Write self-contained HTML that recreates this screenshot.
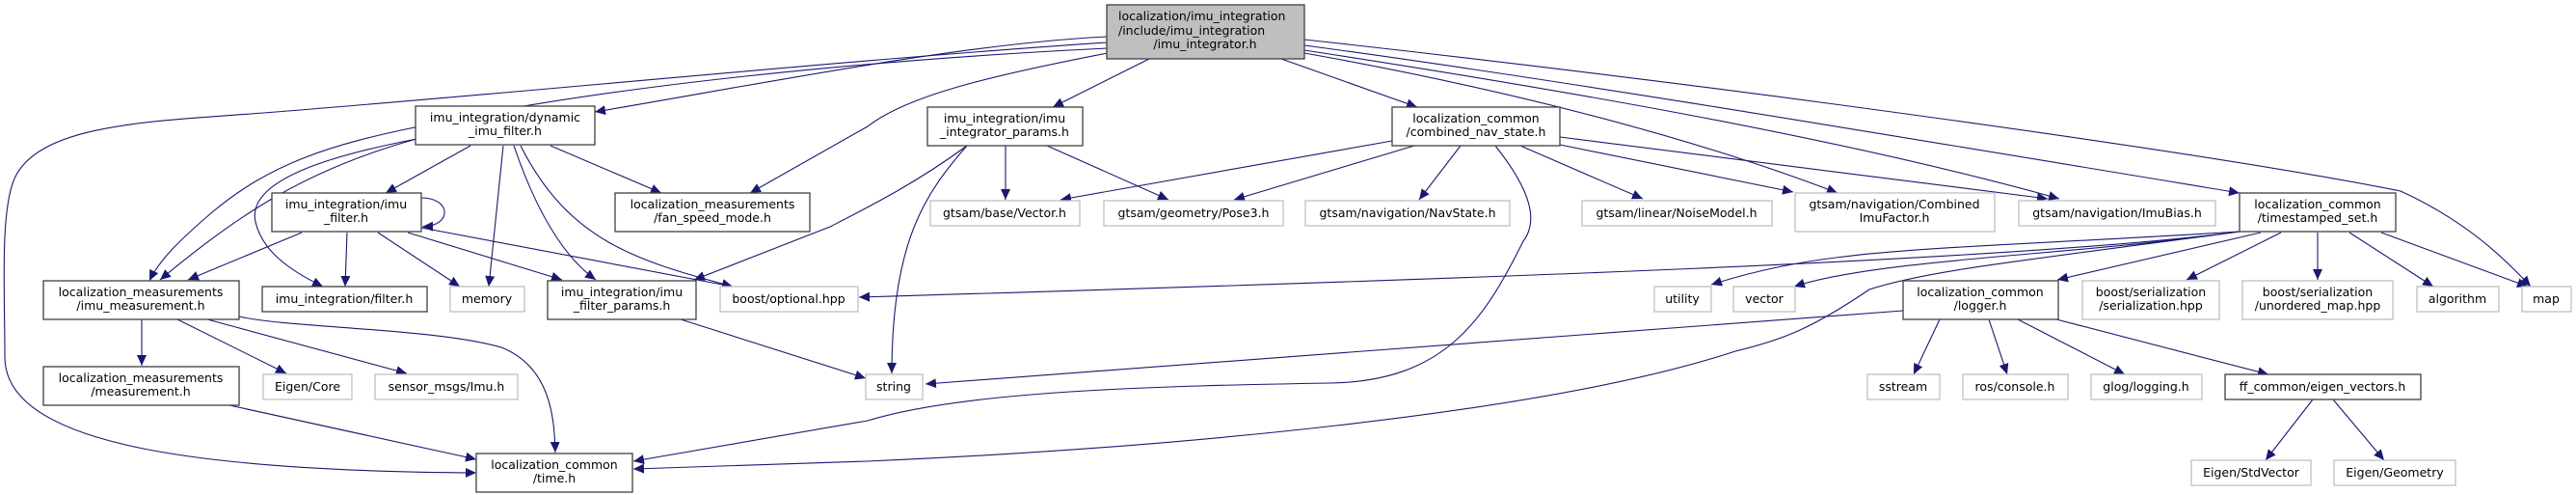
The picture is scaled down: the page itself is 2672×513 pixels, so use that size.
<!DOCTYPE html>
<html><head><meta charset="utf-8"><style>
html,body{margin:0;padding:0;background:#fff;}
svg{display:block;}
text{font-family:"DejaVu Sans","Liberation Sans",sans-serif;font-size:12.5px;fill:#000;}
.b{fill:#fff;stroke:#404040;stroke-width:1.3;}
.g{fill:#fff;stroke:#bfbfbf;stroke-width:1.3;}
.e{fill:none;stroke:#191970;stroke-width:1.1;}
</style></head><body>
<svg width="2672" height="513" viewBox="0 0 2672 513" xmlns="http://www.w3.org/2000/svg">
<defs><marker id="a" markerUnits="userSpaceOnUse" markerWidth="12" markerHeight="10" refX="11" refY="5" orient="auto"><path d="M0,0 L11,5 L0,10 z" fill="#191970"/></marker></defs>
<g class="e" marker-end="url(#a)">
<path d="M1149,44 C900,60 500,100 260,118 C150,126 40,130 15,185 C0,220 5,300 5,370 C5,460 200,488 494,490"/>
<path d="M1149,50 C900,62 620,90 440,130 C340,150 280,170 220,220 C185,250 165,270 155,291"/>
<path d="M1149,38 C1000,45 800,85 617,116"/>
<path d="M1149,55 C1020,80 940,100 900,131 L778,200"/>
<path d="M1192,61 L1092,111"/>
<path d="M1329,61 L1470,111"/>
<path d="M1353,41 C1800,90 2300,160 2490,198 C2560,230 2600,270 2625,297"/>
<path d="M1353,47 C1600,80 1900,130 2323,200"/>
<path d="M1353,52 C1600,90 1900,140 2136,206"/>
<path d="M1353,55 C1550,90 1750,140 1906,200"/>
<path d="M1618,142 L2124,206"/>
<path d="M1618,150 L1860,199"/>
<path d="M1577,151 L1704,206"/>
<path d="M1515,151 L1472,207"/>
<path d="M1467,151 L1280,207"/>
<path d="M1444,146 L1100,207"/>
<path d="M1551,151 C1590,200 1595,230 1580,250 C1540,330 1500,395 1380,397 C1200,400 1000,405 900,436 L657,478"/>
<path d="M1043,151 L1043,207"/>
<path d="M1086,151 L1212,207"/>
<path d="M1003,151 C960,200 925,250 925,387"/>
<path d="M1003,151 C950,190 900,215 861,235 L720,290"/>
<path d="M2323,240 C2100,270 1500,290 891,308"/>
<path d="M2345,241 L2134,290"/>
<path d="M2366,241 L2268,290"/>
<path d="M2404,241 L2404,290"/>
<path d="M2437,241 L2524,297"/>
<path d="M2470,241 L2622,297"/>
<path d="M2323,240 C2150,265 1950,268 1861,297"/>
<path d="M2323,240 C2000,260 1900,255 1775,295"/>
<path d="M2323,240 C2100,270 2000,280 1939,300 C1880,340 1850,352 1800,364 C1600,430 1200,465 900,478 L657,486"/>
<path d="M1974,322 L960,398"/>
<path d="M2012,331 L1985,388"/>
<path d="M2063,331 L2082,388"/>
<path d="M2093,331 L2204,388"/>
<path d="M2133,331 L2353,388"/>
<path d="M2399,414 L2350,477"/>
<path d="M2420,414 L2473,477"/>
<path d="M488,151 L400,200"/>
<path d="M522,151 L507,297"/>
<path d="M571,151 L686,200"/>
<path d="M533,151 C560,230 590,270 618,290"/>
<path d="M540,151 C590,250 660,270 760,297"/>
<path d="M432,144 C350,160 255,185 265,230 C272,260 300,280 335,297"/>
<path d="M432,144 C320,175 250,220 166,290"/>
<path d="M437,205 C468,205 470,234 438,235"/>
<path d="M313,241 L195,290"/>
<path d="M360,241 L358,297"/>
<path d="M392,241 L477,297"/>
<path d="M423,241 L583,290"/>
<path d="M437,236 L760,297"/>
<path d="M147,331 L147,379"/>
<path d="M184,331 L297,387"/>
<path d="M215,331 L422,387"/>
<path d="M248,328 C300,340 450,340 520,360 C570,380 575,430 576,469"/>
<path d="M238,420 L494,476"/>
<path d="M706,331 L898,392"/>
</g>
<rect x="1148" y="5" width="205" height="56" fill="#bfbfbf" stroke="#404040" stroke-width="1.3"/>
<text x="1160" y="21">localization/imu_integration</text>
<text x="1160" y="36">/include/imu_integration</text>
<text x="1250" y="50" text-anchor="middle">/imu_integrator.h</text>
<g text-anchor="middle">
<rect class="b" x="431" y="110" width="186" height="40"/><text x="524" y="126">imu_integration/dynamic</text><text x="524" y="140">_imu_filter.h</text>
<rect class="b" x="962" y="111" width="161" height="40"/><text x="1042" y="127">imu_integration/imu</text><text x="1042" y="141">_integrator_params.h</text>
<rect class="b" x="1444" y="111" width="174" height="40"/><text x="1531" y="127">localization_common</text><text x="1531" y="141">/combined_nav_state.h</text>
<rect class="b" x="282" y="200" width="155" height="40"/><text x="359" y="216">imu_integration/imu</text><text x="359" y="230">_filter.h</text>
<rect class="b" x="638" y="200" width="202" height="40"/><text x="739" y="216">localization_measurements</text><text x="739" y="230">/fan_speed_mode.h</text>
<rect class="g" x="965" y="208" width="155" height="26"/><text x="1042" y="225">gtsam/base/Vector.h</text>
<rect class="g" x="1145" y="208" width="186" height="26"/><text x="1238" y="225">gtsam/geometry/Pose3.h</text>
<rect class="g" x="1354" y="208" width="212" height="26"/><text x="1460" y="225">gtsam/navigation/NavState.h</text>
<rect class="g" x="1641" y="208" width="197" height="26"/><text x="1739" y="225">gtsam/linear/NoiseModel.h</text>
<rect class="g" x="1862" y="200" width="207" height="40"/><text x="1965" y="216">gtsam/navigation/Combined</text><text x="1965" y="230">ImuFactor.h</text>
<rect class="g" x="2094" y="208" width="204" height="26"/><text x="2196" y="225">gtsam/navigation/ImuBias.h</text>
<rect class="b" x="2323" y="200" width="162" height="40"/><text x="2404" y="216">localization_common</text><text x="2404" y="230">/timestamped_set.h</text>
<rect class="b" x="45" y="291" width="203" height="40"/><text x="146" y="307">localization_measurements</text><text x="146" y="321">/imu_measurement.h</text>
<rect class="b" x="272" y="297" width="171" height="26"/><text x="357" y="314">imu_integration/filter.h</text>
<rect class="g" x="467" y="297" width="77" height="26"/><text x="505" y="314">memory</text>
<rect class="b" x="568" y="291" width="154" height="40"/><text x="645" y="307">imu_integration/imu</text><text x="645" y="321">_filter_params.h</text>
<rect class="g" x="747" y="297" width="143" height="26"/><text x="818" y="314">boost/optional.hpp</text>
<rect class="g" x="1716" y="297" width="59" height="26"/><text x="1745" y="314">utility</text>
<rect class="g" x="1798" y="297" width="64" height="26"/><text x="1830" y="314">vector</text>
<rect class="b" x="1974" y="291" width="161" height="40"/><text x="2054" y="307">localization_common</text><text x="2054" y="321">/logger.h</text>
<rect class="g" x="2160" y="291" width="142" height="40"/><text x="2231" y="307">boost/serialization</text><text x="2231" y="321">/serialization.hpp</text>
<rect class="g" x="2326" y="291" width="156" height="40"/><text x="2404" y="307">boost/serialization</text><text x="2404" y="321">/unordered_map.hpp</text>
<rect class="g" x="2507" y="297" width="85" height="26"/><text x="2549" y="314">algorithm</text>
<rect class="g" x="2616" y="297" width="51" height="26"/><text x="2641" y="314">map</text>
<rect class="b" x="45" y="380" width="203" height="40"/><text x="146" y="396">localization_measurements</text><text x="146" y="410">/measurement.h</text>
<rect class="g" x="273" y="388" width="92" height="26"/><text x="319" y="405">Eigen/Core</text>
<rect class="g" x="389" y="388" width="148" height="26"/><text x="463" y="405">sensor_msgs/Imu.h</text>
<rect class="g" x="898" y="388" width="59" height="26"/><text x="927" y="405">string</text>
<rect class="g" x="1937" y="388" width="75" height="26"/><text x="1974" y="405">sstream</text>
<rect class="g" x="2036" y="388" width="109" height="26"/><text x="2090" y="405">ros/console.h</text>
<rect class="g" x="2169" y="388" width="115" height="26"/><text x="2226" y="405">glog/logging.h</text>
<rect class="b" x="2308" y="388" width="203" height="26"/><text x="2409" y="405">ff_common/eigen_vectors.h</text>
<rect class="b" x="494" y="470" width="162" height="40"/><text x="575" y="486">localization_common</text><text x="575" y="500">/time.h</text>
<rect class="g" x="2273" y="477" width="124" height="26"/><text x="2335" y="494">Eigen/StdVector</text>
<rect class="g" x="2421" y="477" width="126" height="26"/><text x="2484" y="494">Eigen/Geometry</text>
</g>
</svg>
</body></html>
